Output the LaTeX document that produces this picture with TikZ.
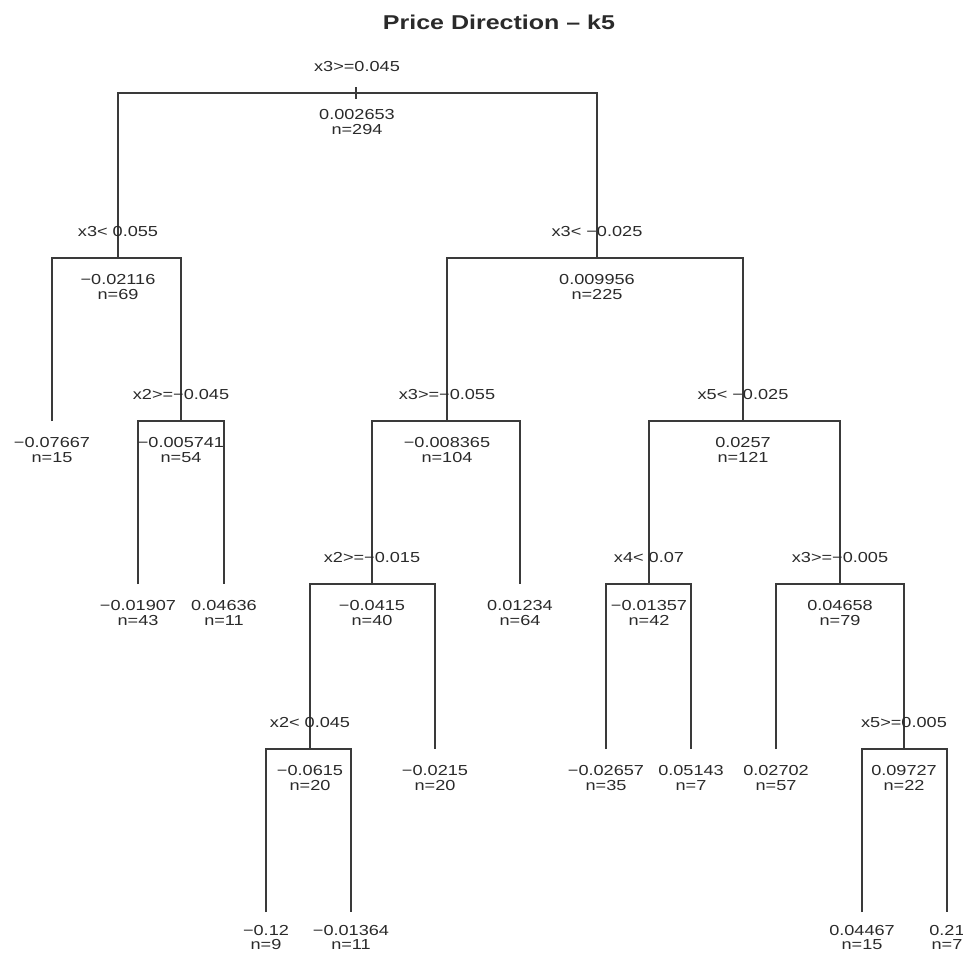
\documentclass[tikz,border=0pt]{standalone}
\usepackage{fontspec}
\usetikzlibrary{calc}
\newfontfamily\treefont{Liberation Sans}[FakeStretch=1.25]
\newfontfamily\titlefont{Liberation Sans}[FakeStretch=1.25]
\definecolor{ink}{HTML}{2A2A2A}
\definecolor{branchcol}{HTML}{3A3A3A}
\tikzset{
  branch/.style={draw=branchcol, line width=1.8pt, line join=miter},
  txt/.style={font=\treefont\fontsize{14.5}{15.5}\selectfont, text=ink, inner sep=0pt, anchor=base},
}
\newcommand{\splitlab}[3]{\node[txt] (#1s) at ($(#2)+(0,-22)$) {#3};}
\newcommand{\vallab}[4]{\node[txt] (#1v) at ($(#2)+(0,26)$) {#3};\node[txt] (#1n) at ($(#2)+(0,41)$) {#4};}
\newcommand{\vallabb}[4]{\node[txt] (#1v) at ($(#2)+(0,23)$) {#3};\node[txt] (#1n) at ($(#2)+(0,37)$) {#4};}
\begin{document}
\begin{tikzpicture}[x=1pt,y=-1pt]
\useasboundingbox[fill=white] (0,0) rectangle (963,953);
\node[font=\titlefont\bfseries\fontsize{20}{24}\selectfont, text=ink, inner sep=0pt, anchor=base] (title) at (499,29) {Price Direction – k5};
% node points
\coordinate (A) at (357,93);
\coordinate (B) at (118,258);
\coordinate (C) at (597,258);
\coordinate (B1) at (52,421);
\coordinate (B2) at (181,421);
\coordinate (B21) at (138,584);
\coordinate (B22) at (224,584);
\coordinate (C1) at (447,421);
\coordinate (C2) at (743,421);
\coordinate (C11) at (372,584);
\coordinate (C12) at (520,584);
\coordinate (C21) at (649,584);
\coordinate (C22) at (840,584);
\coordinate (C111) at (310,749);
\coordinate (C112) at (435,749);
\coordinate (C211) at (606,749);
\coordinate (C212) at (691,749);
\coordinate (C221) at (776,749);
\coordinate (C222) at (904,749);
\coordinate (C1111) at (266,912);
\coordinate (C1112) at (351,912);
\coordinate (C2221) at (862,912);
\coordinate (C2222) at (947,912);
% branches
\draw[branch] ($(A)+(-1,-6)$) -- ($(A)+(-1,6)$);
\draw[branch] (B) |- (A) -| (C);
\draw[branch] (B1) |- (B) -| (B2);
\draw[branch] (B21) |- (B2) -| (B22);
\draw[branch] (C1) |- (C) -| (C2);
\draw[branch] (C11) |- (C1) -| (C12);
\draw[branch] (C21) |- (C2) -| (C22);
\draw[branch] (C111) |- (C11) -| (C112);
\draw[branch] (C211) |- (C21) -| (C212);
\draw[branch] (C221) |- (C22) -| (C222);
\draw[branch] (C1111) |- (C111) -| (C1112);
\draw[branch] (C2221) |- (C222) -| (C2222);
% split labels
\splitlab{A}{A}{x3>=0.045}
\splitlab{B}{B}{x3< 0.055}
\splitlab{C}{C}{x3< −0.025}
\splitlab{B2}{B2}{x2>=−0.045}
\splitlab{C1}{C1}{x3>=−0.055}
\splitlab{C2}{C2}{x5< −0.025}
\splitlab{C11}{C11}{x2>=−0.015}
\splitlab{C21}{C21}{x4< 0.07}
\splitlab{C22}{C22}{x3>=−0.005}
\splitlab{C111}{C111}{x2< 0.045}
\splitlab{C222}{C222}{x5>=0.005}
% values
\vallab{A}{A}{0.002653}{n=294}
\vallab{B}{B}{−0.02116}{n=69}
\vallab{C}{C}{0.009956}{n=225}
\vallab{B1}{B1}{−0.07667}{n=15}
\vallab{B2}{B2}{−0.005741}{n=54}
\vallab{B21}{B21}{−0.01907}{n=43}
\vallab{B22}{B22}{0.04636}{n=11}
\vallab{C1}{C1}{−0.008365}{n=104}
\vallab{C2}{C2}{0.0257}{n=121}
\vallab{C11}{C11}{−0.0415}{n=40}
\vallab{C12}{C12}{0.01234}{n=64}
\vallab{C21}{C21}{−0.01357}{n=42}
\vallab{C22}{C22}{0.04658}{n=79}
\vallab{C111}{C111}{−0.0615}{n=20}
\vallab{C112}{C112}{−0.0215}{n=20}
\vallab{C211}{C211}{−0.02657}{n=35}
\vallab{C212}{C212}{0.05143}{n=7}
\vallab{C221}{C221}{0.02702}{n=57}
\vallab{C222}{C222}{0.09727}{n=22}
\vallabb{C1111}{C1111}{−0.12}{n=9}
\vallabb{C1112}{C1112}{−0.01364}{n=11}
\vallabb{C2221}{C2221}{0.04467}{n=15}
\vallabb{C2222}{C2222}{0.21}{n=7}
\end{tikzpicture}
\end{document}
